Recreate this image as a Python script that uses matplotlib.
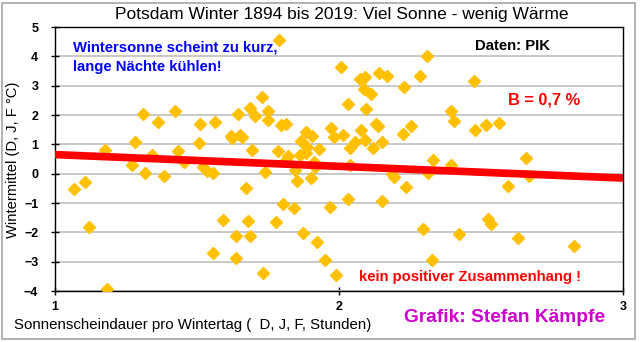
import numpy as np
import matplotlib
matplotlib.use('Agg')
import matplotlib.pyplot as plt
import matplotlib.patches as patches

plt.rcParams['font.family'] = ['Liberation Sans', 'DejaVu Sans']

# Sonnenscheindauer pro Wintertag (Stunden) und Wintermittel (°C)
sun_hours = [
    1.066, 1.105, 1.121, 1.177, 1.184, 1.272, 1.282, 1.311, 1.318, 1.342,
    1.361, 1.384, 1.422, 1.433, 1.455, 1.508, 1.511, 1.522, 1.534, 1.557,
    1.555, 1.565, 1.593, 1.620, 1.624, 1.653, 1.658, 1.645, 1.637, 1.639,
    1.673, 1.679, 1.685, 1.688, 1.695, 1.705, 1.728, 1.732, 1.740, 1.751,
    1.751, 1.778, 1.784, 1.790, 1.797, 1.813, 1.804, 1.812, 1.822, 1.846,
    1.843, 1.852, 1.863, 1.866, 1.872, 1.885, 1.886, 1.883, 1.901, 1.906,
    1.912, 1.917, 1.924, 1.929, 1.951, 1.967, 1.973, 1.984, 1.990, 2.006,
    2.013, 2.030, 2.033, 2.039, 2.039, 2.058, 2.073, 2.092, 2.078, 2.089,
    2.091, 2.096, 2.112, 2.118, 2.132, 2.137, 2.140, 2.151, 2.151, 2.168,
    2.187, 2.193, 2.224, 2.229, 2.235, 2.252, 2.286, 2.295, 2.309, 2.312,
    2.331, 2.329, 2.394, 2.396, 2.406, 2.424, 2.475, 2.478, 2.519, 2.524,
    2.535, 2.564, 2.596, 2.629, 2.659, 2.668, 2.829,
]
winter_temp = [
    -0.53, -0.29, -1.82, 0.79, -3.92, 0.28, 1.08, 2.03, 0.03, 0.62,
    1.77, -0.07, 2.14, 0.78, 0.39, 1.03, 1.71, 0.23, 0.09, 0.03,
    -2.70, 1.75, -1.58, 1.30, 1.22, 1.32, 1.25, 2.04, -2.14, -2.88,
    -0.48, -1.61, 2.25, -2.11, 0.79, 1.95, 2.61, -3.39, 0.05, 2.12,
    1.82, -1.66, 0.77, 4.57, 1.66, 1.71, -1.02, 0.48, 0.60, 0.14,
    -1.17, -0.24, 0.65, 1.13, -2.01, 1.41, 0.91, 0.69, -0.14, 1.28,
    0.40, 0.23, -2.32, 0.85, -2.95, -1.13, 1.54, 1.25, -3.46, 3.64,
    1.31, -0.88, 2.38, 0.89, 0.28, 1.08, 3.22, 3.31, 1.48, 2.90,
    1.14, 2.22, 2.71, 0.89, 1.71, 1.63, 3.44, 1.08, -0.94, 3.32,
    -0.01, -0.11, 1.35, 2.96, -0.44, 1.62, 3.32, -1.90, 4.01, 0.01,
    0.46, -2.95, 2.13, 0.31, 1.79, -2.06, 3.16, 1.50, 1.67, -1.55,
    -1.70, 1.73, -0.43, -2.19, 0.55, -0.07, -2.47,
]

# Trendlinie wie in der Vorlage (nicht alle Winter sind ablesbar)
trend_intercept = 1.05
trend_slope = -0.40

x_ticks = [1, 2, 3]
y_ticks = list(range(-4, 6))

W, H = 640, 342


def fx(px):
    return px / W


def fy(py):
    return 1 - py / H


fig = plt.figure(figsize=(6.4, 3.42), dpi=100)
fig.patches.append(patches.Rectangle((fx(2), fy(339)), fx(633), 336 / H,
                                     transform=fig.transFigure, fill=False,
                                     edgecolor='#a6a6a6', lw=1.2))

ax = fig.add_axes([fx(55), fy(291), 568 / W, 264 / H])
ax.set_xlim(1, 3)
ax.set_ylim(-4, 5)
ax.set_xticks(x_ticks)
ax.set_yticks(y_ticks)
ax.grid(axis='y', color='#c4c4c4', lw=1.3)
ax.set_axisbelow(True)
for s in ax.spines.values():
    s.set_color('black')
    s.set_linewidth(1.0)
ax.tick_params(axis='y', direction='inout', length=6, width=1, pad=9, labelsize=9)
ax.tick_params(axis='x', direction='inout', length=6, width=1, pad=4, labelsize=9)
for lab in ax.get_xticklabels() + ax.get_yticklabels():
    lab.set_fontweight('bold')

ax.plot(sun_hours, winter_temp, ls='none', marker='D', ms=6,
        color='#ffc000', mec='#ffc000', zorder=3)

xt = np.array(x_ticks[::2], dtype=float)
ax.plot(xt, trend_intercept + trend_slope * xt, color='#ff0000', lw=5.5,
        zorder=4, solid_capstyle='butt')

fig.text(fx(342), fy(15), 'Potsdam Winter 1894 bis 2019: Viel Sonne - wenig Wärme',
         ha='center', va='center', fontsize=12.5)
fig.text(fx(13), fy(160), 'Wintermittel (D, J, F °C)', rotation=90,
         ha='center', va='center', fontsize=10.6)
fig.text(fx(14), fy(325), 'Sonnenscheindauer pro Wintertag (  D, J, F, Stunden)',
         ha='left', va='center', fontsize=10.8)

fig.text(fx(73), fy(48), 'Wintersonne scheint zu kurz,', color='#0000ff',
         fontweight='bold', ha='left', va='center', fontsize=10.7)
fig.text(fx(73), fy(67), 'lange Nächte kühlen!', color='#0000ff',
         fontweight='bold', ha='left', va='center', fontsize=10.7)
fig.text(fx(475), fy(46), 'Daten: PIK', color='black',
         fontweight='bold', ha='left', va='center', fontsize=10.7)
fig.text(fx(508), fy(100), 'B = 0,7 %', color='#ff0000',
         fontweight='bold', ha='left', va='center', fontsize=11.8)
fig.text(fx(359), fy(277), 'kein positiver Zusammenhang !', color='#ff0000',
         fontweight='bold', ha='left', va='center', fontsize=10.7)
fig.text(fx(404), fy(318), 'Grafik: Stefan Kämpfe', color='#cc00cc',
         fontweight='bold', ha='left', va='center', fontsize=13.8)

fig.savefig('out.png', dpi=100, facecolor='white')
